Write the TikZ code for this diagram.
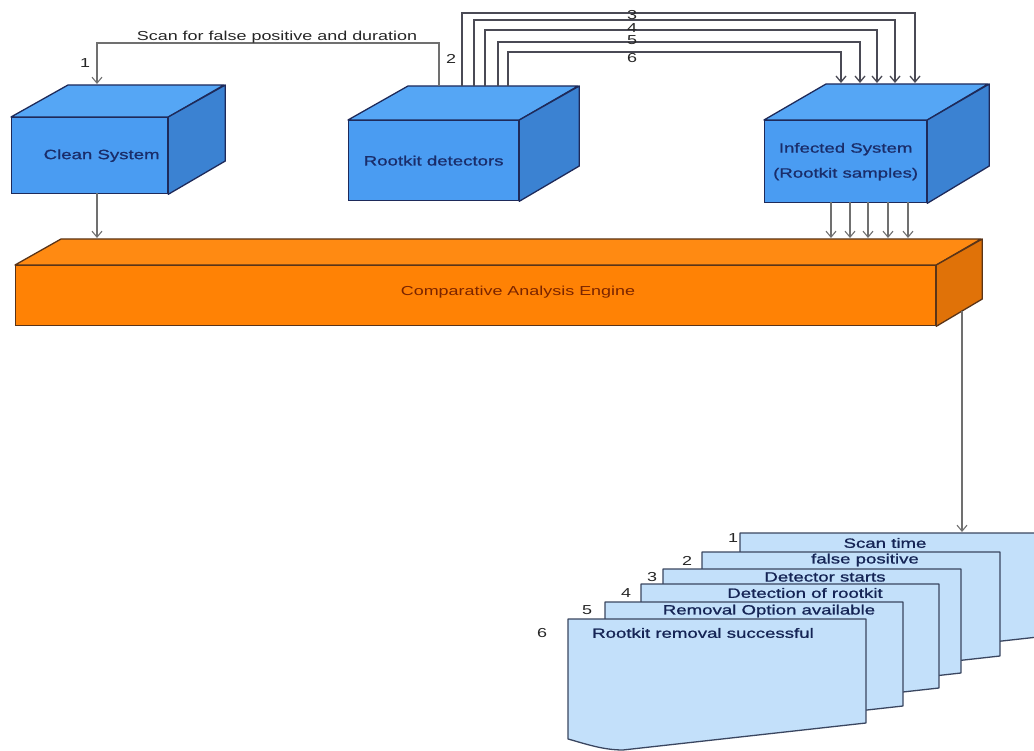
\documentclass[tikz,border=0pt]{standalone}
\usepackage{fontspec}
\setmainfont{Liberation Sans}[FakeStretch=1.38]
\newfontfamily\heavy{Liberation Sans}[FakeStretch=1.38,FakeBold=1]
\usetikzlibrary{arrows.meta}
\definecolor{bluefront}{HTML}{4A9CF2}
\definecolor{bluetop}{HTML}{55A6F5}
\definecolor{blueside}{HTML}{3B82D2}
\definecolor{boxline}{HTML}{1E2A5A}
\definecolor{boxtext}{HTML}{1A2D6A}
\definecolor{orfront}{HTML}{FF8205}
\definecolor{ortop}{HTML}{FF8A12}
\definecolor{orside}{HTML}{E07208}
\definecolor{orline}{HTML}{5A3418}
\definecolor{ortext}{HTML}{7A2400}
\definecolor{pagefill}{HTML}{C3E0FA}
\definecolor{pageline}{HTML}{3A4660}
\definecolor{conngray}{HTML}{707070}
\definecolor{conndark}{HTML}{4A4A55}
\tikzset{
  front/.style={draw=boxline, fill=bluefront, line width=1.3pt, inner sep=0pt, anchor=north west,
    text=boxtext, font=\heavy\fontsize{13.5}{25}\selectfont, align=center},
  topface/.style={draw=boxline, fill=bluetop, line width=1.3pt, line join=round},
  sideface/.style={draw=boxline, fill=blueside, line width=1.3pt, line join=round},
  engfront/.style={draw=orline, fill=orfront, line width=1.3pt, inner sep=0pt, anchor=north west},
  engtop/.style={draw=orline, fill=ortop, line width=1.3pt, line join=round},
  engside/.style={draw=orline, fill=orside, line width=1.3pt, line join=round},
  conn/.style={draw=conngray, line width=1.1pt, -{Straight Barb[length=6pt,width=10pt]}},
  conndk/.style={draw=conndark, line width=1.3pt, -{Straight Barb[length=6pt,width=10pt]}},
  lbl/.style={font=\fontsize{13}{15}\selectfont, text=black!85, inner sep=0pt},
  pagebox/.style={draw=pageline, fill=pagefill, line width=1.3pt, line join=round},
  pagetxt/.style={font=\heavy\fontsize{13.5}{15}\selectfont, text=boxtext!80!black, inner sep=0pt},
}
% cube: name, x, y, w, h, dx, dy(up), text
\newcommand\Cube[8]{%
  \node[front, minimum width=#4pt, minimum height=#5pt] (#1) at (#2,#3) {#8};
  \draw[topface] (#1.north west) -- ++(#6,-#7) -- ++(#4,0) -- (#1.north east) -- cycle;
  \draw[sideface] (#1.north east) -- ++(#6,-#7) -- ++(0,#5) -- (#1.south east) -- cycle;
}
% page: x, y (top-left)
\newcommand\Page[2]{%
  \draw[pagebox] (#1,#2) -- ++(0,120)
     .. controls +(18,5) and +(-20,0) .. ++(55,11)
     -- ++(243,-27) -- ++(0,-104) -- cycle;
}
\begin{document}
\begin{tikzpicture}[x=1pt,y=-1pt]
\useasboundingbox (0,0) rectangle (1034,751);

% cubes
\Cube{clean}{11}{117}{156}{76}{57}{32}{\hspace*{24pt}Clean System}
\Cube{det}{348}{120}{170}{80}{60}{34}{Rootkit detectors}
\Cube{inf}{764}{120}{162}{82}{62}{36}{Infected System\\(Rootkit samples)}

% engine
\node[engfront, minimum width=920pt, minimum height=60pt] (eng) at (15,265) {};
\draw[engtop] (eng.north west) -- ++(46,-26) -- ++(920,0) -- (eng.north east) -- cycle;
\draw[engside] (eng.north east) -- ++(46,-26) -- ++(0,60) -- (eng.south east) -- cycle;
\node[font=\fontsize{13}{15}\selectfont, text=ortext, inner sep=0pt] (englbl) at (518,292) {Comparative Analysis Engine};

% connection points
\coordinate (cleanin) at (97,84);
\coordinate (cleanout) at (97,193);
\coordinate (engin1) at (97,238);
\coordinate (det0) at (439,86);
\coordinate (det1) at (462,86);
\coordinate (det2) at (474,86);
\coordinate (det3) at (485,86);
\coordinate (det4) at (498,86);
\coordinate (det5) at (508,86);
\coordinate (inf1) at (915,83);
\coordinate (inf2) at (895,83);
\coordinate (inf3) at (877,83);
\coordinate (inf4) at (860,83);
\coordinate (inf5) at (841,83);
\foreach \i/\xx in {1/831,2/850,3/868,4/888,5/908}{
  \coordinate (infout\i) at (\xx,202);
  \coordinate (engin\i x) at (\xx,238);
}
\coordinate (engout) at (962,311);

% pages (back to front)
\Page{740}{533}
\Page{702}{552}
\Page{663}{569}
\Page{641}{584}
\Page{605}{602}
\Page{568}{619}
\coordinate (pagein) at (962,532);

\node[pagetxt] (t1) at (885,543) {Scan time};
\node[pagetxt] (t2) at (865,560) {false positive};
\node[pagetxt] (t3) at (825,577) {Detector starts};
\node[pagetxt] (t4) at (805,593) {Detection of rootkit};
\node[pagetxt] (t5) at (769,611) {Removal Option available};
\node[pagetxt, anchor=west] (t6) at (592,633) {Rootkit removal successful};
\node[lbl] (n1) at (733,538) {1};
\node[lbl] (n2) at (687,561) {2};
\node[lbl] (n3) at (652,577) {3};
\node[lbl] (n4) at (626,593) {4};
\node[lbl] (n5) at (587,610) {5};
\node[lbl] (n6) at (542,633) {6};

% connectors
\draw[conn] (det0) -- ++(0,-43) -| (cleanin);
\draw[conn] (cleanout) -- (engin1);
\draw[conndk] (det1) -- ++(0,-73) -| (inf1);
\draw[conndk] (det2) -- ++(0,-66) -| (inf2);
\draw[conndk] (det3) -- ++(0,-56) -| (inf3);
\draw[conndk] (det4) -- ++(0,-44) -| (inf4);
\draw[conndk] (det5) -- ++(0,-34) -| (inf5);
\foreach \i in {1,...,5}{
  \draw[conn] (infout\i) -- (engin\i x);
}
\draw[conn] (engout) -- (pagein);

% connector labels
\node[lbl] (scan) at (277,37) {Scan for false positive and duration};
\node[lbl] (l1) at (85,63) {1};
\node[lbl] (l2) at (451,59) {2};
\node[lbl] (l3) at (632,15) {3};
\node[lbl] (l4) at (632,28) {4};
\node[lbl] (l5) at (632,40) {5};
\node[lbl] (l6) at (632,58) {6};
\end{tikzpicture}
\end{document}
